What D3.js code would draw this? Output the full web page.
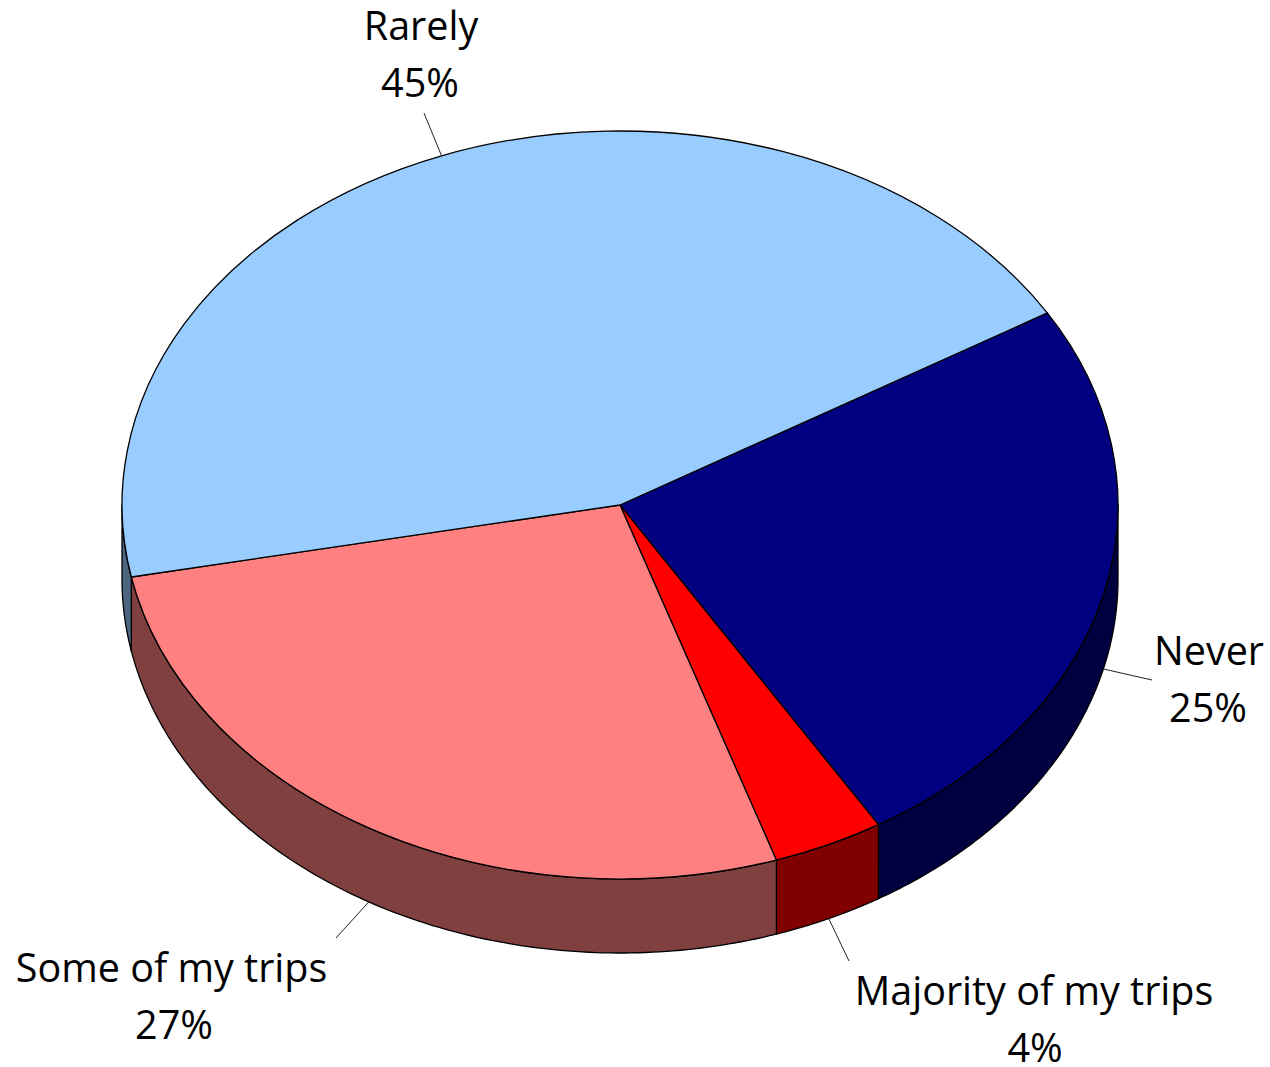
<!DOCTYPE html>
<html>
<head>
<meta charset="utf-8">
<script src="https://cdnjs.cloudflare.com/ajax/libs/d3/7.8.5/d3.min.js"></script>
<style>
html,body{margin:0;padding:0;background:#fff}
svg{display:block}
text{font-family:"Open Sans",sans-serif;font-size:39.5px;fill:#000;text-anchor:middle}
</style>
</head>
<body>
<svg id="chart" width="1270" height="1067"></svg>
<script>
const categories = ["Never", "Majority of my trips", "Some of my trips", "Rarely"];
const values = [24.9, 3.6, 27, 44.5];
const percentLabels = ["25%", "4%", "27%", "45%"];

const topColors = ["#000080", "#FF0000", "#FF8080", "#99CCFF"];
const sideColors = ["#000040", "#800000", "#804040", "#4C6680"];
// label block centre x, first baseline, percent-line centre x, and leader end offsets
const labelX = [1209, 1034, 171.5, 421];
const percentX = [1208, 1035, 174, 420];
const labelY = [665, 1005, 982, 40];
const leaderDX = [-57, -185, 164.5, 3];
const leaderDY = [15, -44, -44, 73];

const W = 1270, H = 1067;
const cx = 620, cy = 505, rx = 498, ry = 374, depth = 74;
const startAngle = 59.1 * Math.PI / 180;

const svg = d3.select("#chart").attr("viewBox", [0, 0, W, H]);
const pie = d3.pie().sort(null).startAngle(startAngle).endAngle(startAngle + 2 * Math.PI);
const slices = pie(values);

const px = a => cx + rx * Math.sin(a);
const py = a => cy - ry * Math.cos(a);

// walls: only the part of each slice on the near half of the ellipse
const wall = d3.area().x(a => px(a)).y0(a => py(a)).y1(a => py(a) + depth);
const near0 = Math.PI / 2, near1 = 3 * Math.PI / 2;
svg.append("g").selectAll("path")
  .data(slices.filter(s => Math.min(s.endAngle, near1) > Math.max(s.startAngle, near0)))
  .join("path")
  .attr("d", s => {
    const a0 = Math.max(s.startAngle, near0), a1 = Math.min(s.endAngle, near1);
    return wall(d3.range(0, 121).map(i => a0 + (a1 - a0) * i / 120)) + "Z";
  })
  .attr("fill", s => sideColors[s.index])
  .attr("stroke", "#000").attr("stroke-width", 1.3).attr("stroke-linejoin", "round");

// top face
const arc = d3.arc().innerRadius(0).outerRadius(100);
svg.append("g")
  .attr("transform", `translate(${cx},${cy}) scale(${rx / 100},${ry / 100})`)
  .selectAll("path").data(slices).join("path")
  .attr("d", arc)
  .attr("fill", s => topColors[s.index])
  .attr("stroke", "#000").attr("stroke-width", 1.3)
  .attr("vector-effect", "non-scaling-stroke").attr("stroke-linejoin", "round");

// leader lines start on the rim at each slice's mid-angle
const midA = s => (s.startAngle + s.endAngle) / 2;
const onNear = a => Math.cos(a) < 0;
svg.append("g").selectAll("line").data(slices).join("line")
  .attr("x1", s => px(midA(s)))
  .attr("y1", s => py(midA(s)) + (onNear(midA(s)) ? depth : 0))
  .attr("x2", s => labelX[s.index] + leaderDX[s.index])
  .attr("y2", s => labelY[s.index] + leaderDY[s.index])
  .attr("stroke", "#222").attr("stroke-width", 1);

// labels
const lab = svg.append("g").selectAll("g").data(slices).join("g");
lab.append("text").attr("x", s => labelX[s.index]).attr("y", s => labelY[s.index])
  .text(s => categories[s.index]);
lab.append("text").attr("x", s => percentX[s.index]).attr("y", s => labelY[s.index] + 57)
  .text(s => percentLabels[s.index]);
</script>
</body>
</html>
